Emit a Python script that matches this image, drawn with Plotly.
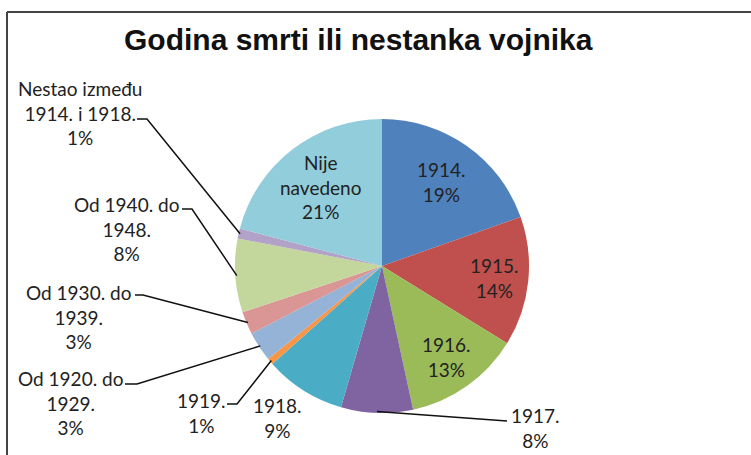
import math
import plotly.graph_objects as go

# ---- data ----
categories = ["1914.", "1915.", "1916.", "1917.", "1918.", "1919.",
              "Od 1920. do<br>1929.", "Od 1930. do<br>1939.", "Od 1940. do<br>1948.",
              "Nestao između<br>1914. i 1918.", "Nije<br>navedeno"]
shares = [19.6, 14.2, 12.8, 7.9, 8.9, 0.7, 3.3, 2.5, 8.1, 1.1, 20.9]
pct_labels = ["19%", "14%", "13%", "8%", "9%", "1%", "3%", "3%", "8%", "1%", "21%"]
title_text = "Godina smrti ili nestanka vojnika"

colors = ["#4F81BD", "#C0504D", "#9BBB59", "#8064A2", "#4BACC6", "#F79646",
          "#95B3D7", "#D99694", "#C3D69B", "#B2A2C7", "#92CDDC"]

W, H = 751, 455
CX, CY, R = 382, 266, 147  # pie centre / radius in pixels (layout)


def px(x):
    return x / W


def py(y):
    return 1 - y / H


total = sum(shares)
mid_angles = []
acc = 0.0
for v in shares:
    mid_angles.append((acc + v / 2) / total * 2 * math.pi)
    acc += v


def polar(i, frac):
    a = mid_angles[i]
    return CX + frac * R * math.sin(a), CY - frac * R * math.cos(a)


fig = go.Figure(go.Pie(
    values=shares, labels=categories, sort=False, direction="clockwise", rotation=0,
    textinfo="none", hoverinfo="label+percent",
    marker=dict(colors=colors, line=dict(width=0)),
    domain=dict(x=[px(CX - R), px(CX + R)], y=[py(CY + R), py(CY - R)]),
    showlegend=False,
))

font = dict(family="Lato, Open Sans, sans-serif", size=19, color="#222222")
annotations = []
shapes = []

# inside labels (index, radial fraction)
for i, frac in [(0, 0.7), (1, 0.77), (2, 0.76), (10, 0.68)]:
    x, y = polar(i, frac)
    annotations.append(dict(x=px(x), y=py(y), xref="paper", yref="paper", showarrow=False,
                            text=categories[i] + "<br>" + pct_labels[i], font=font,
                            xanchor="center", yanchor="middle", align="center"))

# outside labels: (index, label centre px, elbow points px)
outside = [
    (3, (535, 428), [(507, 421)]),
    (4, (277, 418), None),
    (5, (201, 413), [(237, 404), (227, 404)]),
    (6, (70, 403), [(137, 384), (125, 384)]),
    (7, (78, 317), [(143, 295), (135, 295)]),
    (8, (126, 229), [(192, 209), (182, 209)]),
    (9, (80, 113), [(147, 119), (137, 119)]),
]
for i, (lx, ly), elbow in outside:
    annotations.append(dict(x=px(lx), y=py(ly), xref="paper", yref="paper", showarrow=False,
                            text=categories[i] + "<br>" + pct_labels[i], font=font,
                            xanchor="center", yanchor="middle", align="center"))
    if elbow:
        ex, ey = polar(i, 0.99)
        pts = [(ex, ey)] + elbow
        path = "M " + " L ".join(f"{px(a):.5f},{py(b):.5f}" for a, b in pts)
        shapes.append(dict(type="path", path=path, xref="paper", yref="paper",
                           line=dict(color="#111111", width=1.5)))

# title
annotations.append(dict(x=px(358), y=py(39), xref="paper", yref="paper", showarrow=False,
                        text="<b>" + title_text + "</b>",
                        font=dict(family="Liberation Sans, Arial", size=30, color="#111111"),
                        xanchor="center", yanchor="middle"))

# chart border (top and left visible)
shapes.append(dict(type="line", xref="paper", yref="paper", x0=px(7), y0=py(12), x1=1.01, y1=py(12),
                   line=dict(color="#444444", width=2)))
shapes.append(dict(type="line", xref="paper", yref="paper", x0=px(7), y0=py(12), x1=px(7), y1=-0.01,
                   line=dict(color="#444444", width=2)))

fig.update_layout(width=W, height=H, margin=dict(l=0, r=0, t=0, b=0),
                  paper_bgcolor="white", plot_bgcolor="white",
                  annotations=annotations, shapes=shapes)

fig.write_html("out.html", config={"displayModeBar": False},
               post_script="document.body.style.margin='0';document.body.style.overflow='hidden';")
